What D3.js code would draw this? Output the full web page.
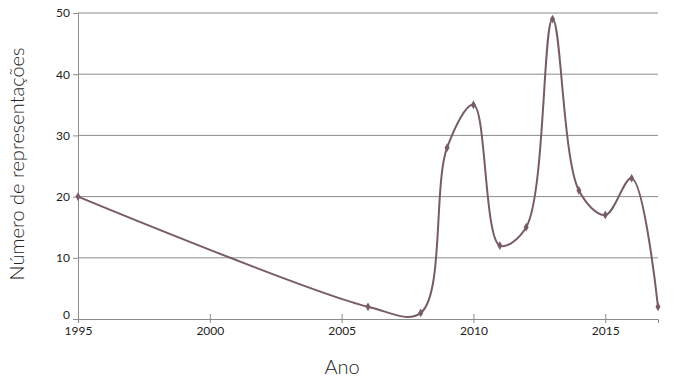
<!DOCTYPE html>
<html><head><meta charset="utf-8">
<script src="https://cdn.jsdelivr.net/npm/d3@7"></script>
<style>body{margin:0;background:#fff}svg{display:block}text{font-family:"Lato","Open Sans",sans-serif;fill:#222}</style>
</head><body>
<svg id="c" width="676" height="388"></svg>
<script>
const years = [1995, 2006, 2008, 2009, 2010, 2011, 2012, 2013, 2014, 2015, 2016, 2017];
const counts = [20, 2, 1, 28, 35, 12, 15, 49, 21, 17, 23, 2];
const xTicks = [1995, 2000, 2005, 2010, 2015];
const yTicks = [0, 10, 20, 30, 40, 50];

const svg = d3.select("#c");
const m = {l: 78, r: 658, t: 13, b: 319};
const x = d3.scaleLinear().domain([1995, 2017]).range([m.l, m.r]);
const y = d3.scaleLinear().domain([0, 50]).range([m.b, m.t]);
const grid = "#8c8c8c";

// gridlines + y axis
const ya = svg.append("g").attr("transform", `translate(${m.l},0)`)
  .call(d3.axisLeft(y).tickValues(yTicks).tickSize(5).tickPadding(3).tickFormat(d3.format("d")));
ya.select(".domain").attr("stroke", grid);
ya.selectAll(".tick line").attr("stroke", grid);
ya.selectAll(".tick text").attr("font-size", 12).attr("fill", "#222")
  .attr("dy", d => d === 0 ? "-0.05em" : "0.32em");
svg.append("g").selectAll("line").data(yTicks.filter(d => d > 0)).join("line")
  .attr("x1", m.l).attr("x2", m.r).attr("y1", d => y(d)).attr("y2", d => y(d))
  .attr("stroke", grid).attr("stroke-width", 1);

// x axis
const xa = svg.append("g").attr("transform", `translate(0,${m.b})`)
  .call(d3.axisBottom(x).tickValues(xTicks).tickSize(4).tickPadding(3).tickFormat(d3.format("d")));
xa.select(".domain").attr("stroke", grid);
xa.selectAll(".tick line").attr("stroke", grid).attr("y1", -5).attr("y2", 4);
xa.selectAll(".tick text").attr("font-size", 12).attr("fill", "#222").attr("dy", "0.71em");

const pts = years.map((d, i) => [d, counts[i]]);
const line = d3.line().x(d => x(d[0])).y(d => y(d[1])).curve(d3.curveCatmullRom.alpha(0.5));
svg.append("path").datum(pts).attr("d", line).attr("fill", "none")
  .attr("stroke", "#785b69").attr("stroke-width", 2);
svg.append("g").selectAll("path").data(pts).join("path")
  .attr("d", d3.symbol(d3.symbolDiamond, 22))
  .attr("transform", d => `translate(${x(d[0])},${y(d[1])})`)
  .attr("fill", "#785b69");

svg.append("text").attr("x", 342).attr("y", 374).attr("text-anchor", "middle")
  .attr("font-size", 20).attr("font-weight", 300).text("Ano");
svg.append("text").attr("transform", "translate(24,164) rotate(-90)").attr("text-anchor", "middle")
  .attr("font-size", 20).attr("font-weight", 300).text("Número de representações");
</script>
</body></html>
